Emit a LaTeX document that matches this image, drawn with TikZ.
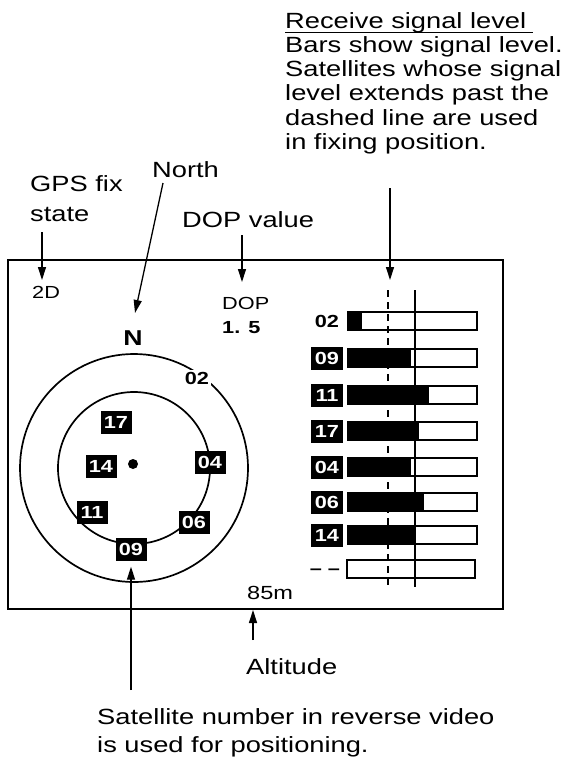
\documentclass[tikz,border=0pt]{standalone}
\usepackage{fontspec}
\setmainfont{Liberation Sans}[FakeStretch=1.24]
\usetikzlibrary{arrows.meta}
\begin{document}
\begin{tikzpicture}[x=1pt,y=-1pt,
  arr/.style={line width=1.3pt,-{Triangle[length=13pt,width=8pt]}},
  lab/.style={anchor=base west,inner sep=0,font=\fontsize{22}{24}\selectfont},
  small/.style={anchor=base west,inner sep=0,font=\fontsize{17.5}{19}\selectfont},
  smallbf/.style={anchor=base west,inner sep=0,font=\bfseries\fontsize{17.5}{19}\selectfont},
  rev/.style={fill=black,text=white,inner sep=0,minimum width=31pt,minimum height=23pt,font=\bfseries\fontsize{17.5}{19}\selectfont},
  plainbf/.style={inner sep=0,font=\bfseries\fontsize{17.5}{19}\selectfont},
  barbox/.style={draw,line width=1.3pt},
  ring/.style={line width=1.7pt},
]
\useasboundingbox (0,0) rectangle (565,761);

% ---- top-right explanation
\node[lab] (r1) at (285,28) {Receive signal level};
\draw[line width=1pt] (r1.south west) -- ++(248,0) coordinate (r1u);
\node[lab] (r2) at (285,52) {Bars show signal level.};
\node[lab] (r3) at (285,76) {Satellites whose signal};
\node[lab] (r4) at (285,100) {level extends past the};
\node[lab] (r5) at (285,125) {dashed line are used};
\node[lab] (r6) at (285,149) {in fixing position.};

% ---- other callouts
\node[lab] (gps1) at (30,191) {GPS fix};
\node[lab] (gps2) at (30,221) {state};
\node[lab] (north) at (152,177) {North};
\node[lab] (dopv) at (182,227) {DOP value};
\node[lab] (alt) at (246,674) {Altitude};
\node[lab] (sat1) at (97,724) {Satellite number in reverse video};
\node[lab] (sat2) at (97,752) {is used for positioning.};

% ---- frame
\node[draw,line width=2pt,inner sep=0,minimum width=495pt,minimum height=349pt] (frame) at (255.5,434.5) {};

% ---- display contents
\node[small] (d2) at (32,298) {2D};
\node[small] (dop) at (222,309) {DOP};
\node[smallbf] (dopn) at (222,333) {1. 5};
\node[inner sep=0,font=\bfseries\fontsize{21.5}{23}\selectfont] (N) at (133,338) {N};
\node[anchor=base west,inner sep=0,font=\fontsize{19}{21}\selectfont] (alt85) at (247,599) {85m};

% ---- sky plot
\draw[ring] (134,468) circle[radius=114pt];
\draw[ring] (134,468) circle[radius=76pt];
\fill (133,464) circle[radius=5pt];
\node[plainbf,fill=white,inner sep=2pt] (c02) at (197,378) {02};
\node[rev] (c17) at (116,422) {17};
\node[rev] (c14) at (101,466) {14};
\node[rev] (c04) at (210,462) {04};
\node[rev] (c11) at (92,512) {11};
\node[rev] (c06) at (194,522) {06};
\node[rev] (c09) at (131,549) {09};

% ---- signal bars
\foreach \c/\e in {321/362,358/411,395/429,431/419,467/411,502/424,535/415}{
  \fill (348,\c-9) rectangle (\e,\c+9);
  \draw[barbox] (348,\c-9) rectangle (477,\c+9);
}
\draw[barbox] (347,560) rectangle (475,578);
\node[plainbf] (b02) at (327,321) {02};
\node[rev,minimum width=32pt] (b09) at (327,358) {09};
\node[rev,minimum width=32pt] (b11) at (327,395) {11};
\node[rev,minimum width=32pt] (b17) at (327,431) {17};
\node[rev,minimum width=32pt] (b04) at (327,467) {04};
\node[rev,minimum width=32pt] (b06) at (327,502) {06};
\node[rev,minimum width=32pt] (b14) at (327,535) {14};
\node[anchor=base,inner sep=0,font=\bfseries\fontsize{17.5}{19}\selectfont] (bdash) at (325,574) {– –};

\draw[line width=1.5pt,dash pattern=on 7pt off 5pt] (388,290) -- (388,587);
\draw[line width=1.8pt] (415,290) -- (415,587);

% ---- arrows
\coordinate (gpsA) at (42,232);  \coordinate (gpsB) at (42,280);
\coordinate (norA) at (163,183); \coordinate (norB) at (135,313);
\coordinate (dopA) at (242,235); \coordinate (dopB) at (242,282);
\coordinate (sigA) at (390,188); \coordinate (sigB) at (390,280);
\coordinate (altA) at (253,640);
\coordinate (satA) at (131,690);
\draw[arr] (gpsA) -- (gpsB);
\draw[arr] (norA) -- (norB);
\draw[arr] (dopA) -- (dopB);
\draw[arr] (sigA) -- (sigB);
\draw[arr] (altA) -- (altA |- frame.south);
\draw[arr,shorten >=6pt] (satA) -- (c09.south);
\end{tikzpicture}
\end{document}
